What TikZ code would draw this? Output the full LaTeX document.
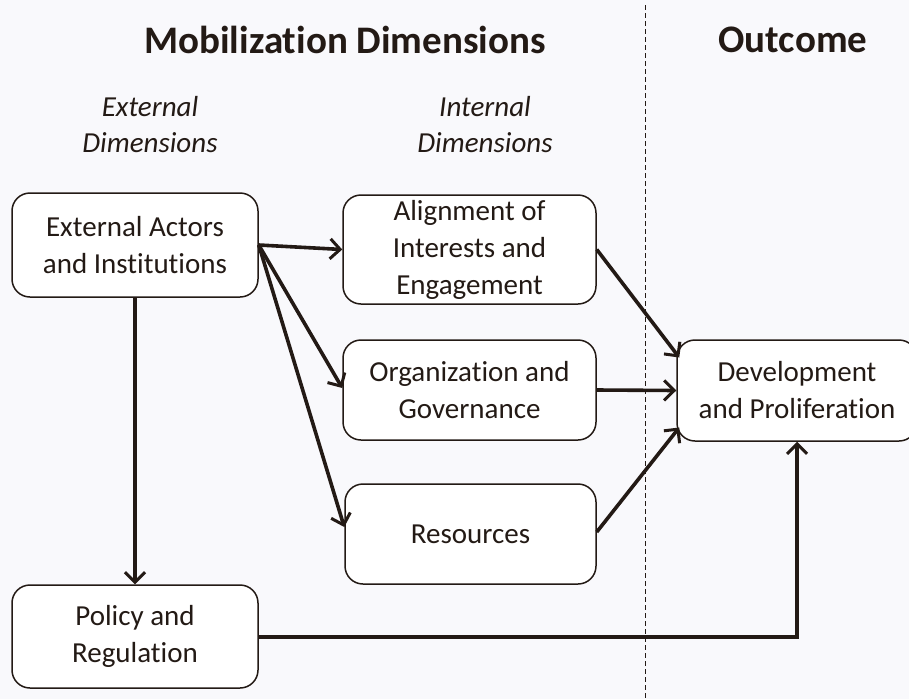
\documentclass[tikz,border=0pt]{standalone}
\usepackage{fontspec}
\setmainfont{Carlito}[Ligatures={NoCommon}]
\usetikzlibrary{arrows.meta}
\definecolor{ink}{RGB}{35,26,21}
\definecolor{bg}{RGB}{249,249,252}
\begin{document}
\begin{tikzpicture}[x=1pt,y=-1pt,
  box/.style={draw=ink, line width=1.5pt, rounded corners=18pt, fill=white, text=ink,
    minimum width=#1, minimum height=102pt, align=center, font=\fontsize{29}{37}\selectfont, inner sep=0pt},
  box/.default=250pt,
  conn/.style={draw=ink, line width=3.6pt, -{Straight Barb[length=10pt,width=20pt,line width=3pt]}},
  title/.style={text=ink, font=\bfseries\fontsize{39}{44}\selectfont},
  sub/.style={text=ink, align=center, font=\itshape\fontsize{29}{36}\selectfont}]
\fill[bg] (0,0) rectangle (909,699);
\useasboundingbox (0,0) rectangle (909,699);
\draw[ink, line width=0.8pt, dash pattern=on 5pt off 3pt] (645,5) -- (645,699);
\node[title] (tmob) at (345,40) {Mobilization Dimensions};
\node[title] (tout) at (793,40) {Outcome};
\node[sub] (sext) at (150,125) {External\\Dimensions};
\node[sub] (sint) at (485,125) {Internal\\Dimensions};
\node[box=246pt, minimum height=104pt] (ext) at (135,245) {External Actors\\and Institutions};
\node[box=253pt, minimum height=109pt] (ali) at (469.5,249.5) {Alignment of\\Interests and\\Engagement};
\node[box=253pt, minimum height=100pt] (org) at (469.5,390) {Organization and\\Governance};
\node[box=251pt, minimum height=100pt] (res) at (470.5,534) {Resources};
\node[box=240pt, minimum height=101pt] (dev) at (797,390.5) {Development\\and Proliferation};
\node[box=246pt, minimum height=103pt] (pol) at (135,636.5) {Policy and\\Regulation};
\coordinate (hub) at (ext.east);
\coordinate (corner) at (797,637);
\draw[conn] (hub) -- (ali.west);
\draw[conn] (hub) -- ([yshift=2pt]org.west);
\draw[conn] (hub) -- ([yshift=7pt]res.west);
\draw[conn] (ext.south) -- (pol.north);
\draw[conn] (ali.east) -- ([shift={(3pt,33pt)}]dev.west);
\draw[conn] (org.east) -- (dev.west);
\draw[conn] ([yshift=2pt]res.east) -- ([shift={(3pt,-37pt)}]dev.west);
\draw[conn] (pol.east |- corner) -- (corner) -- (dev.south -| corner);
\end{tikzpicture}
\end{document}
